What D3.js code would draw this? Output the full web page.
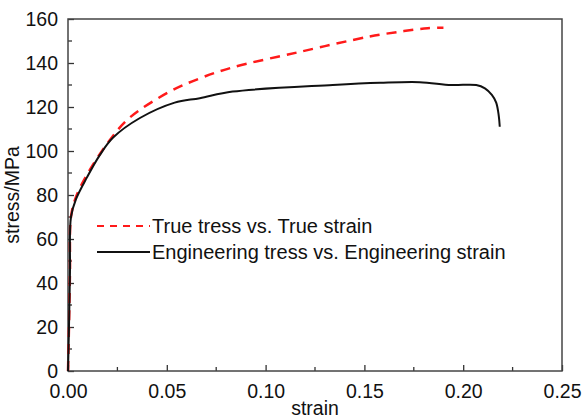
<!DOCTYPE html>
<html>
<head>
<meta charset="utf-8">
<script src="https://cdn.jsdelivr.net/npm/d3@7"></script>
<style>
  body { margin: 0; background: #fff; }
  svg text { font-family: Arial, "Liberation Sans", sans-serif; fill: #111; }
</style>
</head>
<body>
<div class="container"></div>
<script>
// engineering curve
const engStrain = [0, 0.0005, 0.001, 0.0015, 0.004, 0.0096, 0.016, 0.0227, 0.0364, 0.054, 0.0667, 0.0833, 0.134, 0.158, 0.178, 0.194, 0.2066, 0.211, 0.2145, 0.2167, 0.218, 0.2185];
const engStress = [0, 20, 45, 70, 78, 88, 98, 106, 115, 122, 124, 127, 130, 131, 131.3, 130, 130, 128.5, 125.5, 122, 116, 111];
// true curve
const trueStrain = [0, 0.0005, 0.001, 0.0015, 0.004, 0.0101, 0.0212, 0.031, 0.0515, 0.0667, 0.0833, 0.117, 0.1525, 0.17, 0.182, 0.19];
const trueStress = [0, 20, 45, 70, 79, 90, 105, 115, 127, 133, 138, 145, 152, 154.5, 155.8, 156];

const xTicks = [0, 0.05, 0.10, 0.15, 0.20, 0.25];
const yTicks = [0, 20, 40, 60, 80, 100, 120, 140, 160];
const legendLabels = ["True tress vs. True strain", "Engineering tress vs. Engineering strain"];

const margin = { top: 19, right: 21, bottom: 48, left: 68 },
    width = 583 - margin.left - margin.right,
    height = 419 - margin.top - margin.bottom;

const svg = d3.select(".container")
    .append("svg")
    .attr("width", 583)
    .attr("height", 419)
    .append("g")
    .attr("transform", `translate(${margin.left}, ${margin.top})`);

const xScale = d3.scaleLinear().domain([0, 0.25]).range([0, width]);
const yScale = d3.scaleLinear().domain([0, 160]).range([height, 0]);

// minor ticks (inward)
const xMinor = d3.range(0.025, 0.25, 0.05);
const yMinor = d3.range(10, 160, 20);

const xAxis = d3.axisBottom(xScale).tickValues(xTicks).tickSizeInner(-6).tickSizeOuter(0)
    .tickPadding(13).tickFormat(d3.format(".2f"));
const yAxis = d3.axisLeft(yScale).tickValues(yTicks).tickSizeInner(-6).tickSizeOuter(0)
    .tickPadding(10).tickFormat(d3.format("d"));

svg.append("g").attr("transform", `translate(0, ${height})`)
    .selectAll("line").data(xMinor).enter().append("line")
    .attr("x1", d => xScale(d)).attr("x2", d => xScale(d))
    .attr("y1", 0).attr("y2", -4).attr("stroke", "#333").attr("stroke-width", 1.3);
svg.append("g")
    .selectAll("line").data(yMinor).enter().append("line")
    .attr("x1", 0).attr("x2", 4)
    .attr("y1", d => yScale(d)).attr("y2", d => yScale(d)).attr("stroke", "#333").attr("stroke-width", 1.3);

const gx = svg.append("g").attr("transform", `translate(0, ${height})`).call(xAxis);
const gy = svg.append("g").call(yAxis);
[gx, gy].forEach(g => {
  g.select(".domain").remove();
  g.selectAll(".tick line").attr("stroke", "#333").attr("stroke-width", 1.3);
  g.selectAll(".tick text").style("font-size", "19.5px").attr("fill", "#111");
});

// frame
svg.append("rect")
    .attr("width", width).attr("height", height)
    .attr("fill", "none").attr("stroke", "#444").attr("stroke-width", 1.5);

const line = d3.line().x(d => xScale(d[0])).y(d => yScale(d[1])).curve(d3.curveCatmullRom);

svg.append("path")
    .datum(trueStrain.map((s, i) => [s, trueStress[i]]))
    .attr("d", line)
    .attr("fill", "none").attr("stroke", "#ff1a1a").attr("stroke-width", 2.5)
    .attr("stroke-dasharray", "10,7");

svg.append("path")
    .datum(engStrain.map((s, i) => [s, engStress[i]]))
    .attr("d", line)
    .attr("fill", "none").attr("stroke", "#111").attr("stroke-width", 2);

// legend
const legend = svg.append("g").attr("transform", "translate(29, 207)");
legend.append("line").attr("x1", 0).attr("x2", 53).attr("y1", 0).attr("y2", 0)
    .attr("stroke", "#ff1a1a").attr("stroke-width", 2).attr("stroke-dasharray", "7,6");
legend.append("line").attr("x1", 0).attr("x2", 53).attr("y1", 26).attr("y2", 26)
    .attr("stroke", "#111").attr("stroke-width", 2);
legend.selectAll("text").data(legendLabels).enter().append("text")
    .attr("x", 55).attr("y", (d, i) => i * 26)
    .attr("dy", "0.35em")
    .style("font-size", "20px")
    .text(d => d);

// axis titles
svg.append("text")
    .attr("x", width / 2).attr("y", height + 44)
    .attr("text-anchor", "middle").style("font-size", "19.5px")
    .text("strain");
svg.append("text")
    .attr("transform", `translate(-49, ${height / 2}) rotate(-90)`)
    .attr("text-anchor", "middle").style("font-size", "19.5px")
    .text("stress/MPa");
</script>
</body>
</html>
